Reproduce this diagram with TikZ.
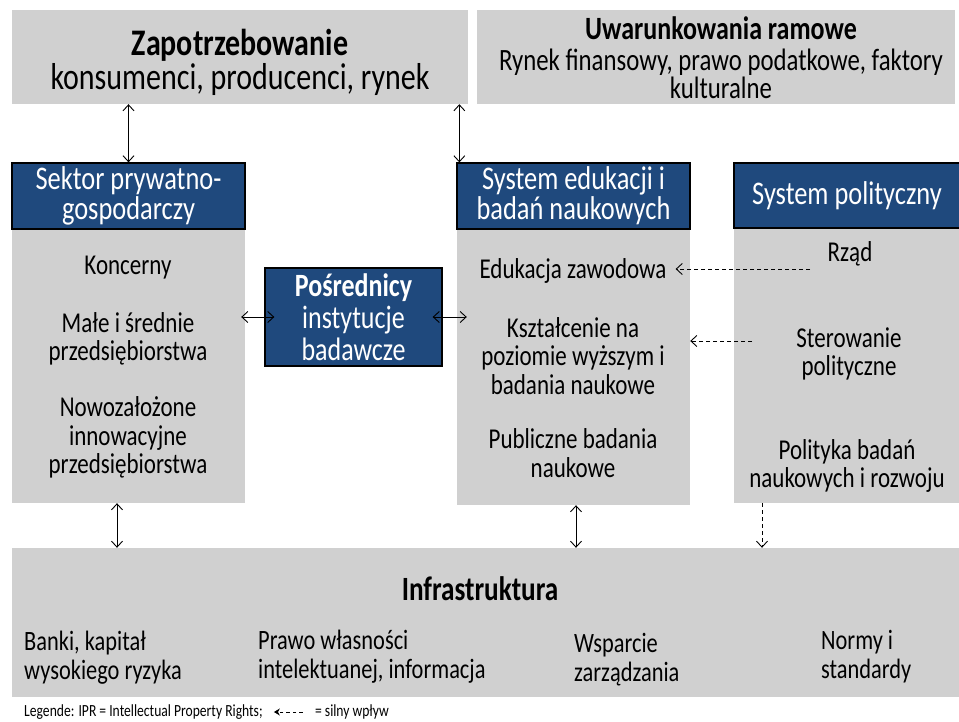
\documentclass[tikz,border=0pt]{standalone}
\usepackage{fontspec}
\setmainfont[FakeStretch=0.8]{Carlito}
\usetikzlibrary{arrows.meta}
\definecolor{boxgray}{HTML}{D0D0D0}
\definecolor{headblue}{HTML}{1F497D}
\begin{document}
\begin{tikzpicture}[x=1pt,y=-1pt,
  graybox/.style={fill=boxgray, draw=none, inner sep=0pt},
  headbox/.style={fill=headblue, draw=black, line width=1.3pt, inner sep=0pt,
    text=white, align=center, font=\fontsize{33}{30}\selectfont},
  bodytext/.style={align=center, inner sep=0pt, font=\fontsize{28.75}{28.5}\selectfont},
  infratext/.style={align=left, anchor=west, inner sep=0pt, font=\fontsize{28}{29}\selectfont},
  barb/.tip={Straight Barb[length=6pt,width=11pt]},
  dbl/.style={line width=0.9pt, barb-barb},
  infl/.style={line width=0.9pt, dash pattern=on 4pt off 3pt, -barb}
]
\useasboundingbox (0,0) rectangle (959,722);

% top row
\node[graybox, minimum width=456pt, minimum height=94pt] (zap) at (240,57) {};
\node[inner sep=0pt, font=\fontsize{37.5}{36}\selectfont\bfseries] (zaptitle) at (240,45) {Zapotrzebowanie};
\node[inner sep=0pt, font=\fontsize{37.5}{36}\selectfont] (zapsub) at (240,80) {konsumenci, producenci, rynek};

\node[graybox, minimum width=478pt, minimum height=94pt] (uwar) at (716,57) {};
\node[inner sep=0pt, font=\fontsize{32.5}{30}\selectfont\bfseries] (uwtitle) at (721,28.5) {Uwarunkowania ramowe};
\node[inner sep=0pt, font=\fontsize{31}{26}\selectfont] (uwsub1) at (721,62)
  {Rynek finansowy, prawo podatkowe, faktory};
\node[inner sep=0pt, font=\fontsize{31}{26}\selectfont] (uwsub2) at (721,88) {kulturalne};

% private sector
\node[graybox, minimum width=233pt, minimum height=274pt] (sekbody) at (128.5,366) {};
\node[headbox, minimum width=233pt, minimum height=66pt] (sekhead) at (128.5,196)
  {Sektor prywatno-\\gospodarczy};
\node[bodytext] (koncerny) at (128,268) {Koncerny};
\node[bodytext] (msp) at (128,339) {Małe i średnie\\przedsiębiorstwa};
\node[bodytext] (nowe) at (128,437.5) {Nowozałożone\\innowacyjne\\przedsiębiorstwa};

% education and research
\node[graybox, minimum width=233pt, minimum height=276pt] (edubody) at (573.5,367) {};
\node[headbox, minimum width=233pt, minimum height=66pt] (eduhead) at (573.5,196)
  {System edukacji i\\badań naukowych};
\node[bodytext] (edzaw) at (573,271) {Edukacja zawodowa};
\node[bodytext] (ksztal) at (573,356) {Kształcenie na\\poziomie wyższym i\\badania naukowe};
\node[bodytext] (publ) at (573,453) {Publiczne badania\\naukowe};

% political system
\node[graybox, minimum width=226pt, minimum height=275pt] (polbody) at (847,365.5) {};
\node[headbox, minimum width=226pt, minimum height=65pt] (polhead) at (847,195.5)
  {System polityczny};
\node[bodytext] (rzad) at (850,254) {Rząd};
\node[bodytext] (ster) at (849,354) {Sterowanie\\polityczne};
\node[bodytext] (polbad) at (847,466) {Polityka badań\\naukowych i rozwoju};

% intermediaries
\node[headbox, minimum width=177pt, minimum height=98pt, font=\fontsize{32.5}{32}\selectfont] (pos) at (353.5,317)
  {\textbf{Pośrednicy}\\instytucje\\badawcze};

% infrastructure
\node[graybox, minimum width=947pt, minimum height=149pt] (infra) at (485.5,622.5) {};
\node[inner sep=0pt, font=\fontsize{34}{32}\selectfont\bfseries] (inftitle) at (480,589) {Infrastruktura};
\node[infratext] (banki) at (24,657.5) {Banki, kapitał\\wysokiego ryzyka};
\node[infratext] (prawo) at (258,656.5) {Prawo własności\\intelektuanej, informacja};
\node[infratext] (wsparcie) at (574,660) {Wsparcie\\zarządzania};
\node[infratext] (normy) at (821,656.5) {Normy i\\standardy};

% legend
\node[inner sep=0pt, anchor=west, font=\fontsize{17}{19}\selectfont] (leg1) at (24,712)
  {Legende: IPR = Intellectual Property Rights;};
\coordinate (legtip) at ([xshift=11pt]leg1.east);
\coordinate (legtail) at ([xshift=40pt]leg1.east);
\draw[line width=0.9pt, dash pattern=on 3.5pt off 3pt, -{Stealth[length=6pt,width=7pt]}] (legtail) -- (legtip);
\node[inner sep=0pt, anchor=west, font=\fontsize{17}{19}\selectfont] (leg2) at ([xshift=52pt]leg1.east)
  {= silny wpływ};

% connectors
\draw[dbl] (zap.south -| sekhead.north) -- (sekhead.north);
\draw[dbl] ([xshift=3pt]eduhead.north west |- zap.south) -- ([xshift=3pt]eduhead.north west);
\draw[dbl] ([xshift=-4pt]sekbody.east |- pos.west) -- ([xshift=10pt]pos.west);
\draw[dbl] ([xshift=-10pt]pos.east) -- ([xshift=10pt]edubody.west |- pos.east);
\draw[dbl] ([xshift=-11.5pt]sekbody.south) -- ([xshift=-11.5pt]sekbody.south |- infra.north);
\draw[dbl] ([xshift=2.5pt]edubody.south) -- ([xshift=2.5pt]edubody.south |- infra.north);
\draw[infl] ([xshift=-85pt]polbody.south) -- ([xshift=-85pt]polbody.south |- infra.north);
\coordinate (rzsrc) at (810,269);
\draw[infl] (rzsrc) -- ([xshift=9pt]edzaw.east |- rzsrc);
\coordinate (stsrc) at (752,341);
\draw[infl] (stsrc) -- (edubody.east |- stsrc);
\end{tikzpicture}
\end{document}
